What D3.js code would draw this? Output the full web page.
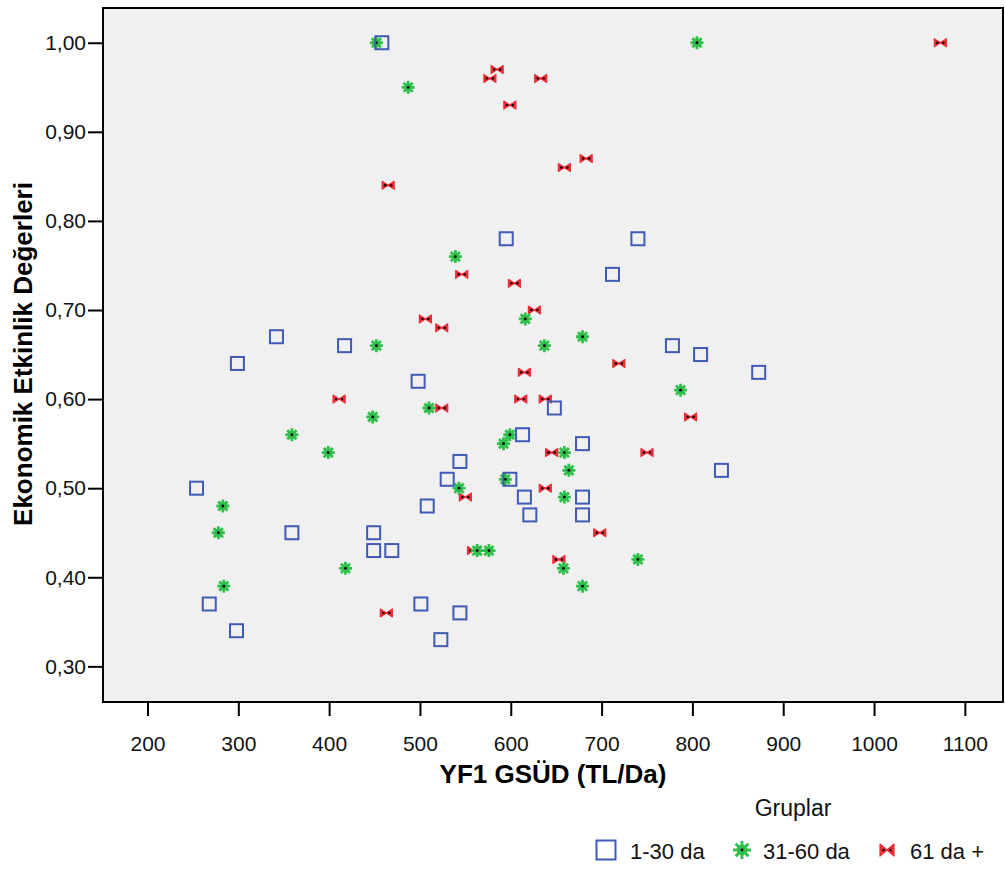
<!DOCTYPE html>
<html>
<head>
<meta charset="utf-8">
<script src="https://cdn.jsdelivr.net/npm/d3@7"></script>
<style>
  body { margin: 0; background: #fff; }
  text { font-family: "Liberation Sans", Arial, sans-serif; }
</style>
</head>
<body>
<div id="content"></div>
<script>
let width = 1005;
let height = 870;
let margin = ({top: 8, right: 2, bottom: 168, left: 103});

// Groups
let groups = ["1-30 da", "31-60 da", "61 da +"];

// 1-30 da (squares)
let g1x = [458, 595, 740, 712, 342, 417, 778, 809, 299, 873, 498, 648, 613, 679, 544, 832, 530, 599, 254, 615, 679, 508, 621, 679, 359, 449, 449, 469, 268, 501, 544, 298, 523];
let g1y = [1.00, 0.78, 0.78, 0.74, 0.67, 0.66, 0.66, 0.65, 0.64, 0.63, 0.62, 0.59, 0.56, 0.55, 0.53, 0.52, 0.51, 0.51, 0.50, 0.49, 0.49, 0.48, 0.47, 0.47, 0.45, 0.45, 0.43, 0.43, 0.37, 0.37, 0.36, 0.34, 0.33];

// 31-60 da (stars)
let g2x = [452, 805, 487, 539, 616, 452, 637, 679, 787, 448, 510, 359, 599, 592, 399, 659, 664, 594, 543, 659, 283, 278, 563, 576, 740, 418, 658, 284, 679];
let g2y = [1.00, 1.00, 0.95, 0.76, 0.69, 0.66, 0.66, 0.67, 0.61, 0.58, 0.59, 0.56, 0.56, 0.55, 0.54, 0.54, 0.52, 0.51, 0.50, 0.49, 0.48, 0.45, 0.43, 0.43, 0.42, 0.41, 0.41, 0.39, 0.39];

// 61 da + (bowties)
let g3x = [1073, 585, 577, 633, 599, 659, 683, 465, 546, 604, 626, 506, 524, 719, 615, 411, 611, 638, 798, 524, 645, 750, 638, 550, 559, 698, 653, 463];
let g3y = [1.00, 0.97, 0.96, 0.96, 0.93, 0.86, 0.87, 0.84, 0.74, 0.73, 0.70, 0.69, 0.68, 0.64, 0.63, 0.60, 0.60, 0.60, 0.58, 0.59, 0.54, 0.54, 0.50, 0.49, 0.43, 0.45, 0.42, 0.36];

let xTicks = [200, 300, 400, 500, 600, 700, 800, 900, 1000, 1100];
let yTicks = [0.30, 0.40, 0.50, 0.60, 0.70, 0.80, 0.90, 1.00];

let blue = "#3f5bb5";
let green = "#2fbf4a";
let red = "#ee2c36";

let svg = d3.select("#content")
    .append("svg")
    .attr("width", width)
    .attr("height", height);

let xScale = d3.scaleLinear()
    .domain([151, 1142])
    .range([margin.left, width - margin.right]);

let yScale = d3.scaleLinear()
    .domain([0.26, 1.039])
    .range([height - margin.bottom, margin.top]);

let plotBottom = height - margin.bottom;

// Plot background
svg.append("rect")
    .attr("x", margin.left)
    .attr("y", margin.top)
    .attr("width", width - margin.right - margin.left)
    .attr("height", plotBottom - margin.top)
    .attr("fill", "#f0f0f0")
    .attr("stroke", "#000")
    .attr("stroke-width", 2);

// Axes
let fmt = d3.format(".2f");
let yAxis = d3.axisLeft(yScale)
    .tickValues(yTicks)
    .tickSize(14)
    .tickPadding(2)
    .tickFormat(d => fmt(d).replace(".", ","));

let yg = svg.append("g")
    .attr("transform", "translate(" + (margin.left - 1) + ",0)")
    .call(yAxis);
yg.select(".domain").remove();
yg.selectAll("line").attr("stroke-width", 2);
yg.selectAll("text").attr("font-size", 21).attr("fill", "#111");

let xAxis = d3.axisBottom(xScale)
    .tickValues(xTicks)
    .tickSize(13)
    .tickPadding(20)
    .tickFormat(d3.format("d"));

let xg = svg.append("g")
    .attr("transform", "translate(0," + (plotBottom + 1) + ")")
    .call(xAxis);
xg.select(".domain").remove();
xg.selectAll("line").attr("stroke-width", 2);
xg.selectAll("text").attr("font-size", 21).attr("fill", "#111");

// Axis titles
svg.append("text")
    .attr("x", 553)
    .attr("y", 783)
    .attr("text-anchor", "middle")
    .attr("font-size", 26)
    .attr("font-weight", "bold")
    .text("YF1 GSÜD (TL/Da)");

svg.append("text")
    .attr("transform", "translate(32,354) rotate(-90)")
    .attr("text-anchor", "middle")
    .attr("font-size", 26)
    .attr("font-weight", "bold")
    .text("Ekonomik Etkinlik Değerleri");

// Marker drawing helpers
function drawSquare(g, x, y, s) {
    g.append("rect")
        .attr("x", x - s / 2)
        .attr("y", y - s / 2)
        .attr("width", s)
        .attr("height", s)
        .attr("fill", "none")
        .attr("stroke", blue)
        .attr("stroke-width", 2);
}

function drawStar(g, x, y, r) {
    let d = "";
    for (let i = 0; i < 4; i++) {
        let a = i * Math.PI / 4;
        let dx = r * Math.cos(a), dy = r * Math.sin(a);
        d += "M" + (x - dx) + "," + (y - dy) + "L" + (x + dx) + "," + (y + dy);
    }
    g.append("path")
        .attr("d", d)
        .attr("stroke", green)
        .attr("stroke-width", 2.8);
    g.append("circle")
        .attr("cx", x)
        .attr("cy", y)
        .attr("r", r * 0.6)
        .attr("fill", green);
    g.append("circle")
        .attr("cx", x)
        .attr("cy", y)
        .attr("r", 1.4)
        .attr("fill", "#000");
}

function drawBowtie(g, x, y, w, h) {
    let hw = w / 2, hh = h / 2;
    g.append("path")
        .attr("d", "M" + (x - hw) + "," + (y - hh) + "L" + x + "," + y + "L" + (x - hw) + "," + (y + hh) + "Z" +
            "M" + (x + hw) + "," + (y - hh) + "L" + x + "," + y + "L" + (x + hw) + "," + (y + hh) + "Z")
        .attr("fill", red)
        .attr("stroke", red)
        .attr("stroke-width", 1.2)
        .attr("stroke-linejoin", "round");
    g.append("rect")
        .attr("x", x - hw + 1)
        .attr("y", y - 1)
        .attr("width", w - 2)
        .attr("height", 2)
        .attr("fill", red);
    [-1, 1].forEach(function(s) {
        g.append("circle")
            .attr("cx", x + s * hw * 0.5)
            .attr("cy", y)
            .attr("r", 1.2)
            .attr("fill", "#000");
    });
}

// Points
let pts = svg.append("g");
g3x.forEach(function(v, i) {
    drawBowtie(pts, xScale(v), yScale(g3y[i]), 12, 8);
});
g2x.forEach(function(v, i) {
    drawStar(pts, xScale(v), yScale(g2y[i]), 6.5);
});
g1x.forEach(function(v, i) {
    drawSquare(pts, xScale(v), yScale(g1y[i]), 13);
});

// Legend
svg.append("text")
    .attr("x", 793)
    .attr("y", 816)
    .attr("text-anchor", "middle")
    .attr("font-size", 23)
    .attr("fill", "#111")
    .text("Gruplar");

let leg = svg.append("g");
let legX = [596, 742, 887];
let legTextX = [630, 763, 910];
drawSquare(leg, legX[0] + 10, 850, 19);
drawStar(leg, legX[1], 850, 9);
drawBowtie(leg, legX[2], 850, 14, 12);
groups.forEach(function(gname, i) {
    leg.append("text")
        .attr("x", legTextX[i])
        .attr("y", 859)
        .attr("font-size", 22)
        .attr("fill", "#111")
        .text(gname);
});
</script>
</body>
</html>
